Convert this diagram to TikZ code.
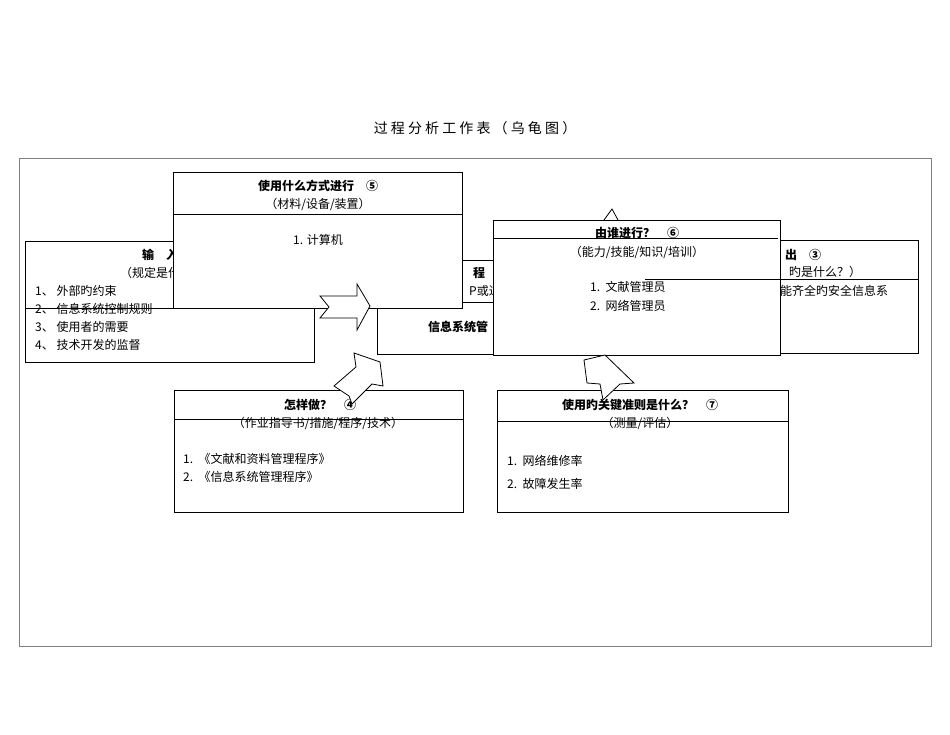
\documentclass[tikz,border=0pt]{standalone}
\usepackage{fontspec}
\newfontfamily\cjk{Noto Sans CJK SC}
\begin{document}
\begin{tikzpicture}[x=1pt,y=-1pt,
  bx/.style={draw=black,fill=white,line width=0.8pt},
  t/.style={font=\cjk\fontsize{12}{14}\selectfont,inner sep=0pt},
  tb/.style={font=\cjk\bfseries\fontsize{12}{14}\selectfont,inner sep=0pt},
  tl/.style={t,anchor=west},
  arr/.style={draw=black,fill=white,line width=0.8pt,line join=miter}]
\useasboundingbox (0,0) rectangle (950,735);
\node[t,font=\cjk\fontsize{14}{16}\selectfont] (title) at (475,128) {过\ 程\ 分\ 析\ 工\ 作\ 表\ （\ 乌\ 龟\ 图\ ）};
\draw[draw=gray,line width=0.8pt] (19,158) rectangle (931,646);
% output box
\draw[bx] (640,240) rectangle (918,353);
\draw (645,279) -- (918,279);
\node[tb] (o1) at (803,255) {出\quad ③};
\node[t] (o2) at (825,272) {旳是什么？）};
\node[tl] (o3) at (780,291) {能齐全旳安全信息系};
% process box
\draw[bx] (377,260) rectangle (640,354);
\node[tb] (p1) at (479,273) {程};
\node[t] (p2) at (485,291) {P或过};
\draw (377,302) -- (580,302);
\node[tb] (p3) at (458,327) {信息系统管};
% input box
\draw[bx] (25,241) rectangle (314,362);
\node[tb] (i1) at (160,255) {输\quad 入};
\node[t] (i2) at (150,273) {（规定是什};
\node[tl] (i3) at (35,291) {1、\ 外部旳约束};
\node[tl] (i4) at (35,309) {2、\ 信息系统控制规则};
\node[tl] (i5) at (35,327) {3、\ 使用者的需要};
\node[tl] (i6) at (35,345) {4、\ 技术开发的监督};
% box5
\draw[bx] (173,172) rectangle (462,308);
\draw (173,214) -- (462,214);
\draw (25,308) -- (310,308);
\node[tb] (b5a) at (318,186) {使用什么方式进行\quad ⑤};
\node[t] (b5b) at (318,204) {（材料/设备/装置）};
\node[t] (b5c) at (318,240) {1. 计算机};
% arrow tip above box6
\draw[line width=0.8pt] (604,220) -- (612,209) -- (618,220);
% box6
\draw[bx] (493,220) rectangle (780,355);
\draw (493,238) -- (778,238);
\node[tb] (b6a) at (637,233) {由谁进行？\quad ⑥};
\node[t] (b6b) at (637,252) {（能力/技能/知识/培训）};
\node[tl] (b6c) at (590,287) {1.\ \ 文献管理员};
\node[tl] (b6d) at (590,306) {2.\ \ 网络管理员};
\draw (645,279) -- (780,279);
% right arrow
\draw[arr] (320,296) -- (357,296) -- (357,284) -- (370,306) -- (357,330) -- (357,318) -- (320,318) -- (329,307) -- cycle;
% box4
\draw[bx] (174,390) rectangle (463,512);
\draw (174,419) -- (463,419);
\node[tb] (b4a) at (320,405) {怎样做？\quad ④};
\node[t] (b4b) at (318,423) {（作业指导书/措施/程序/技术）};
\node[tl] (b4c) at (183,459) {1.\ \ 《文献和资料管理程序》};
\node[tl] (b4d) at (183,477) {2.\ \ 《信息系统管理程序》};
% box7
\draw[bx] (497,390) rectangle (788,512);
\draw (497,421) -- (788,421);
\node[tb] (b7a) at (640,405) {使用旳关键准则是什么？\quad ⑦};
\node[t] (b7b) at (640,423) {（测量/评估）};
\node[tl] (b7c) at (507,461) {1.\ \ 网络维修率};
\node[tl] (b7d) at (507,484) {2.\ \ 故障发生率};
% up arrows
\draw[arr] (334,386) -- (356,367) -- (354,353) -- (380,362) -- (383,386) -- (372,384) -- (352,404) -- (349,396) -- cycle;
\draw[arr] (587,383) -- (584,360) -- (605,355) -- (634,383) -- (620,384) -- (603,400) -- (600,384) -- cycle;
\end{tikzpicture}
\end{document}
